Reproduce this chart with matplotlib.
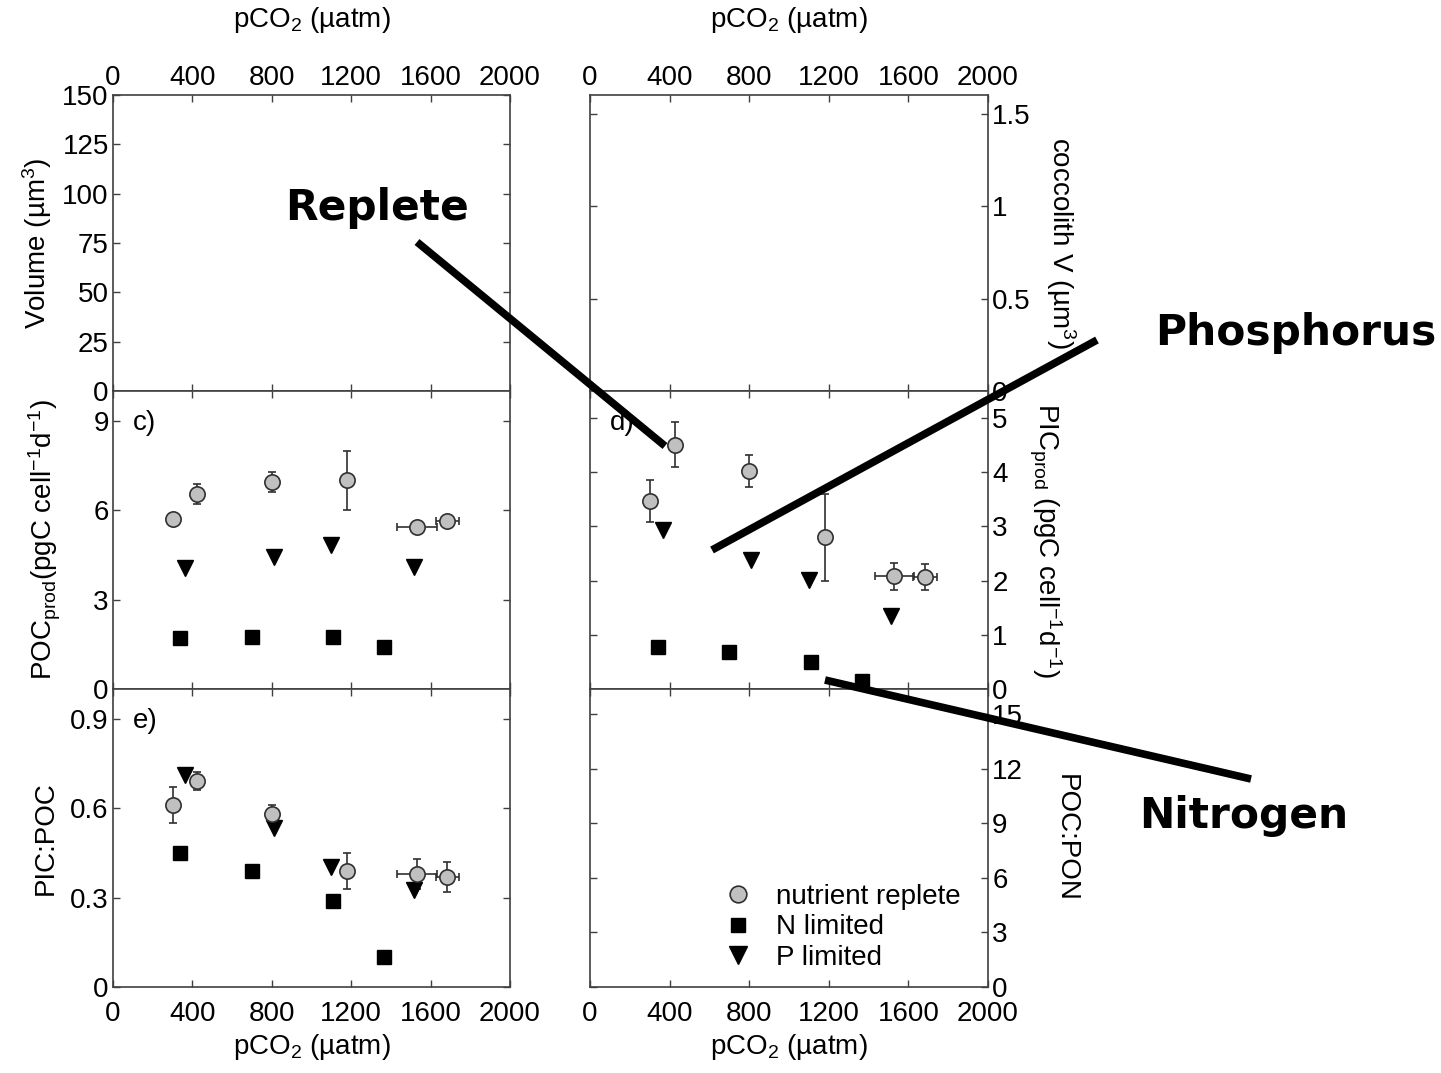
import numpy as np
import matplotlib.pyplot as plt
from matplotlib.lines import Line2D

plt.rcParams['font.family'] = ['Liberation Sans', 'DejaVu Sans']
plt.rcParams['mathtext.fontset'] = 'custom'
plt.rcParams['mathtext.rm'] = 'Liberation Sans'
plt.rcParams['mathtext.it'] = 'Liberation Sans'
plt.rcParams['axes.edgecolor'] = '#404040'

# nutrient replete treatment
rep_x = [300, 425, 800, 1180, 1530, 1685]
rep_xerr = [0, 0, 0, 0, 100, 60]
rep_poc = [5.7, 6.55, 6.95, 7.0, 5.45, 5.65]
rep_poc_err = [0, 0.33, 0.33, 1.0, 0, 0]
rep_pic = [3.47, 4.51, 4.02, 2.80, 2.08, 2.07]
rep_pic_err = [0.38, 0.42, 0.30, 0.80, 0.25, 0.24]
rep_ratio = [0.61, 0.69, 0.58, 0.39, 0.38, 0.37]
rep_ratio_err = [0.06, 0.03, 0.03, 0.06, 0.05, 0.05]

# N limited
n_x = [340, 700, 1110, 1365]
n_poc = [1.70, 1.76, 1.76, 1.42]
n_pic = [0.77, 0.68, 0.50, 0.15]
n_ratio = [0.45, 0.39, 0.29, 0.10]

# P limited
p_x = [365, 810, 1100, 1515]
p_poc = [4.05, 4.44, 4.83, 4.10]
p_pic = [2.93, 2.39, 2.01, 1.35]
p_ratio = [0.71, 0.533, 0.404, 0.326]

xticks = [0, 400, 800, 1200, 1600, 2000]
xlab = 'pCO$_2$ (\u00b5atm)'

fig = plt.figure(figsize=(14.41, 10.73), dpi=100)
W, H = 1441, 1073

def box(x0, y0, x1, y1):
    return [x0 / W, 1 - y1 / H, (x1 - x0) / W, (y1 - y0) / H]

ax_a = fig.add_axes(box(113, 95, 510, 391))
ax_b = fig.add_axes(box(590, 95, 988, 391))
ax_c = fig.add_axes(box(113, 391, 510, 689))
ax_d = fig.add_axes(box(590, 391, 988, 689))
ax_e = fig.add_axes(box(113, 689, 510, 987))
ax_f = fig.add_axes(box(590, 689, 988, 987))

fs = 20
for ax in [ax_a, ax_b, ax_c, ax_d, ax_e, ax_f]:
    ax.set_xlim(0, 2000)
    ax.set_xticks(xticks)
    ax.tick_params(direction='in', length=5, width=1, color='#404040',
                   labelsize=fs, top=True, right=True, pad=3,
                   labelbottom=False, labeltop=False)
    for s in ax.spines.values():
        s.set_linewidth(1.2)

for ax in [ax_b, ax_d, ax_f]:
    ax.tick_params(labelleft=False, labelright=True)
    ax.yaxis.set_label_position('right')

for ax in [ax_a, ax_b]:
    ax.tick_params(labeltop=True)
    ax.xaxis.set_label_position('top')
    ax.set_xlabel(xlab, fontsize=fs, labelpad=27)
for ax in [ax_e, ax_f]:
    ax.tick_params(labelbottom=True)
    ax.tick_params(axis='x', pad=10)
    ax.set_xlabel(xlab, fontsize=fs, labelpad=4)

ax_a.set_ylim(0, 150)
ax_a.set_yticks([0, 25, 50, 75, 100, 125, 150])
ax_a.set_ylabel('Volume (\u00b5m$^3$)', fontsize=fs, labelpad=6)

ax_b.set_ylim(0, 1.6)
ax_b.set_yticks([0, 0.5, 1, 1.5])
ax_b.set_yticklabels(['0', '0.5', '1', '1.5'])
ax_b.set_ylabel('coccolith V (\u00b5m$^3$)', fontsize=fs, rotation=-90, labelpad=34)

ax_c.set_ylim(0, 10)
ax_c.set_yticks([0, 3, 6, 9])
ax_c.set_ylabel(r'POC$_{prod}$(pgC cell$^{-1}$d$^{-1}$)', fontsize=fs, labelpad=22)

ax_d.set_ylim(0, 5.5)
ax_d.set_yticks([0, 1, 2, 3, 4, 5])
ax_d.set_ylabel(r'PIC$_{prod}$ (pgC cell$^{-1}$d$^{-1}$)', fontsize=fs, rotation=-90, labelpad=40)

ax_e.set_ylim(0, 1.0)
ax_e.set_yticks([0, 0.3, 0.6, 0.9])
ax_e.set_yticklabels(['0', '0.3', '0.6', '0.9'])
ax_e.set_ylabel('PIC:POC', fontsize=fs, labelpad=8)

ax_f.set_ylim(0, 16.4)
ax_f.set_yticks([0, 3, 6, 9, 12, 15])
ax_f.set_ylabel('POC:PON', fontsize=fs, rotation=-90, labelpad=40)

gray = '#c0c0c0'
edge = '#303030'

def draw(ax, rep, rep_err, nvals, pvals):
    ax.errorbar(rep_x, rep, yerr=rep_err, xerr=rep_xerr, fmt='none',
                ecolor=edge, elinewidth=1.2, capsize=3, capthick=1.2, zorder=2)
    ax.plot(p_x, pvals, 'v', color='black', markersize=12, zorder=3)
    ax.plot(n_x, nvals, 's', color='black', markersize=10, zorder=3)
    ax.plot(rep_x, rep, 'o', mfc=gray, mec=edge, mew=1.2, markersize=11, zorder=4)

draw(ax_c, rep_poc, rep_poc_err, n_poc, p_poc)
draw(ax_d, rep_pic, rep_pic_err, n_pic, p_pic)
draw(ax_e, rep_ratio, rep_ratio_err, n_ratio, p_ratio)

ax_c.text(0.05, 0.87, 'c)', transform=ax_c.transAxes, fontsize=fs)
ax_d.text(0.05, 0.87, 'd)', transform=ax_d.transAxes, fontsize=fs)
ax_e.text(0.05, 0.87, 'e)', transform=ax_e.transAxes, fontsize=fs)

handles = [
    Line2D([], [], ls='none', marker='o', mfc=gray, mec=edge, mew=1.2, markersize=12),
    Line2D([], [], ls='none', marker='s', color='black', markersize=10),
    Line2D([], [], ls='none', marker='v', color='black', markersize=13),
]
ax_f.legend(handles, ['nutrient replete', 'N limited', 'P limited'],
            loc='lower left', bbox_to_anchor=(0.28, -0.01), frameon=False,
            fontsize=fs, handletextpad=0.8, labelspacing=0.15, borderpad=0.2,
            handlelength=1.2)

# annotation callouts on top of the panels
def callout(x0, y0, x1, y1):
    fig.add_artist(Line2D([x0 / W, x1 / W], [1 - y0 / H, 1 - y1 / H],
                          transform=fig.transFigure, color='black', lw=5.5,
                          solid_capstyle='butt', zorder=10))

callout(417, 242, 665, 446)
callout(712, 550, 1097, 340)
callout(825, 680, 1251, 779)

bold = dict(family='DejaVu Sans', fontweight='bold', fontsize=30.5,
            ha='center', va='center', zorder=11)
fig.text(377 / W, 1 - 208 / H, 'Replete', **bold)
fig.text(1296 / W, 1 - 333 / H, 'Phosphorus', **bold)
fig.text(1244 / W, 1 - 816 / H, 'Nitrogen', **bold)

fig.savefig('out.png', dpi=100)
